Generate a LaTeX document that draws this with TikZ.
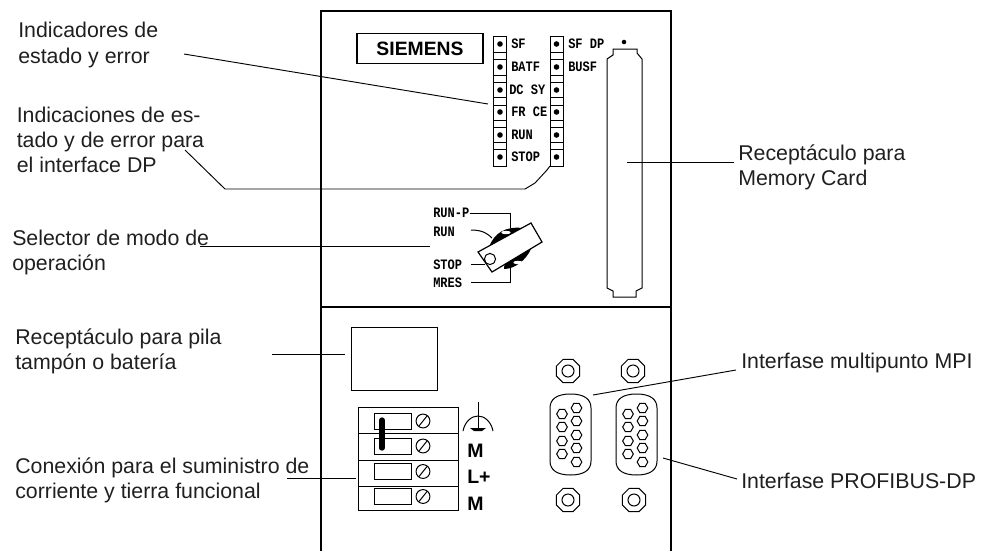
\documentclass[tikz,border=0pt]{standalone}
\usepackage{fontspec}
\setmainfont{Liberation Sans}
\newfontfamily\ledfont{Liberation Mono}
\usetikzlibrary{shapes.geometric}
\tikzset{
  px/.style={x=0.75pt,y=-0.75pt},
  panel/.style={draw=black,line width=0.95pt},
  lead/.style={draw=black,line width=0.7pt},
  thin part/.style={draw=black,line width=0.75pt},
  cap text/.style={font=\fontsize{16}{18.75}\selectfont,text=black!88,align=left,anchor=north west,inner sep=0pt},
  led text/.style={font=\ledfont\bfseries\fontsize{9}{10}\selectfont,anchor=west,inner sep=0pt,yscale=1.2},
  term text/.style={font=\bfseries\fontsize{14.6}{16}\selectfont,anchor=base west,inner sep=0pt},
  nut/.style={draw=black,line width=0.75pt,regular polygon,regular polygon sides=8,minimum size=19pt,inner sep=0pt},
  pin/.style={draw=black,line width=0.75pt,regular polygon,regular polygon sides=6,minimum size=8pt,inner sep=0pt},
}
\begin{document}
\begin{tikzpicture}[px]
\useasboundingbox (0,0) rectangle (983,551);
% panel
\draw[panel] (321,551) -- (321,11) -- (671,11) -- (671,551);
\draw[panel] (321,307) -- (671,307);
% siemens
\node[draw,line width=0.8pt,minimum width=94.5pt,minimum height=23pt,inner sep=0pt,font=\bfseries\fontsize{14.5}{16}\selectfont] (siemens) at (420,48.5) {SIEMENS};
% LEDs
\foreach \cx/\nm in {500/a,556.5/b}{
  \draw[thin part] (\cx-6.5,36) rectangle (\cx+6.5,166);
  \foreach \yy in {52,59,75,82,97,105,120,127,142,149}{\draw[thin part] (\cx-6.5,\yy) -- (\cx+6.5,\yy);}
  \foreach \yy in {44,67,90,112,135,157}{\fill (\cx,\yy) circle (2.1pt);}
}
\node[led text] (l1) at (511,44) {SF};
\node[led text] (l2) at (511,67) {BATF};
\node[led text] (l3) at (509,90) {DC SY};
\node[led text] (l4) at (511,112) {FR CE};
\node[led text] (l5) at (511,135) {RUN};
\node[led text] (l6) at (511,157) {STOP};
\node[led text] (l7) at (568,44) {SF DP};
\node[led text] (l8) at (568,67) {BUSF};
\fill (624,42) circle (1.7pt);
% memory card
\draw[thin part] (607,288) -- (607,59) -- (613,55) -- (613,49) -- (637,49) -- (637,53) -- (642,59) -- (642,288) -- (636,291) -- (636,297) -- (613,297) -- (613,291) -- cycle;
% captions
\node[cap text,font=\fontsize{16}{20}\selectfont] (c1) at (18,21.5) {Indicadores de\\estado y error};
\node[cap text] (c2) at (16.5,106.5) {Indicaciones de es-\\tado y de error para\\el interface DP};
\node[cap text] (c3) at (12,229.5) {Selector de modo de\\operación};
\node[cap text] (c4) at (15,328.5) {Receptáculo para pila\\tampón o batería};
\node[cap text] (c5) at (15,457.5) {Conexión para el suministro de\\corriente y tierra funcional};
\node[cap text] (c6) at (738,144.5) {Receptáculo para\\Memory Card};
\node[cap text] (c7) at (741,352.5) {Interfase multipunto MPI};
\node[cap text] (c8) at (741,472.5) {Interfase PROFIBUS-DP};
% leaders
\coordinate (e1) at (184,54);
\coordinate (t1) at (488,104);
\draw[lead] (e1) -- (t1);
\draw[lead] (185,150) -- (225,189) -- (525,189) -- (535,183) -- (547,170) -- (550,166);
\draw[lead] (627,162) -- (734,162);
\draw[lead] (200,246) -- (430,246);
\draw[lead] (272,354) -- (345,354);
\draw[lead] (287,478) -- (356,478);
\draw[lead] (593,395) -- (736,370);
\draw[lead] (663,458) -- (737,479);
% selector
\node[led text] (s1) at (433,213) {RUN-P};
\node[led text] (s2) at (433,232) {RUN};
\node[led text] (s3) at (433,265) {STOP};
\node[led text] (s4) at (433,283) {MRES};
\draw[thin part] (s1.east) -- (510,213) -- (510,228);
\draw[thin part] (471,230) .. controls (483,230) and (488,234) .. (492,238);
\draw[thin part] (471,264) -- (485,264);
\draw[thin part] (471,282) -- (510,282) -- (510,268);
\fill (489,247) .. controls (494,233) and (506,226) .. (522,228) -- (500,247) -- cycle;
\fill (504,269) .. controls (515,269) and (526,260) .. (531,249) -- (505,258) -- cycle;
\fill[white] (506,232.5) ellipse (3.5pt and 1.3pt);
\fill[white] (518,262.5) ellipse (3.5pt and 1.3pt);
\filldraw[fill=white,draw=black,line width=0.9pt] (478,252) -- (531,223) -- (542,242) -- (492,272) -- cycle;
\draw[thin part] (490,259) circle (4.2pt);
% battery
\draw[thin part] (351,327) rectangle (437,390);
% terminals
\draw[thin part] (358,407) rectangle (458,510);
\foreach \yy in {433,460,486}{\draw[thin part] (358,\yy) -- (458,\yy);}
\foreach \yy in {421,446,471.5,496.5}{
  \draw[thin part] (374,\yy-8) rectangle (411,\yy+8);
  \draw[thin part] (423,\yy) circle (5.2pt);
  \draw[thin part] (419,\yy+5) -- (427,\yy-5);
}
\draw[line width=4pt,line cap=round] (382,420) -- (382,448);
\draw[thin part] (478,402) -- (478,428);
\draw[thin part] (463,431) .. controls (465,421) and (472,416) .. (478,416) .. controls (484,416) and (491,421) .. (493,431);
\fill (470,428) -- (486,428) -- (482,431) -- (474,431) -- cycle;
\node[term text] (t1m) at (467,457) {M};
\node[term text] (t2m) at (467,483) {L+};
\node[term text] (t3m) at (467,510) {M};
% connectors
\foreach \xx in {550,616}{
  \draw[thin part] (\xx,408) .. controls (\xx,399) and (\xx+7,394) .. (\xx+20.5,394) .. controls (\xx+34,394) and (\xx+41,399) .. (\xx+41,408) -- (\xx+41,461) .. controls (\xx+41,470) and (\xx+34,475) .. (\xx+20.5,475) .. controls (\xx+7,475) and (\xx,470) .. (\xx,461) -- cycle;
  \foreach \yy in {414,427,441,454}{\node[pin] at (\xx+12,\yy) {};}
  \foreach \yy in {408,421,435,448,462}{\node[pin] at (\xx+26.5,\yy) {};}
}
\foreach \xx/\yy in {568/371,633/371,568/500,634/500}{
  \node[nut] at (\xx,\yy) {};
  \draw[thin part] (\xx,\yy) circle (4.5pt);
}
\end{tikzpicture}
\end{document}
